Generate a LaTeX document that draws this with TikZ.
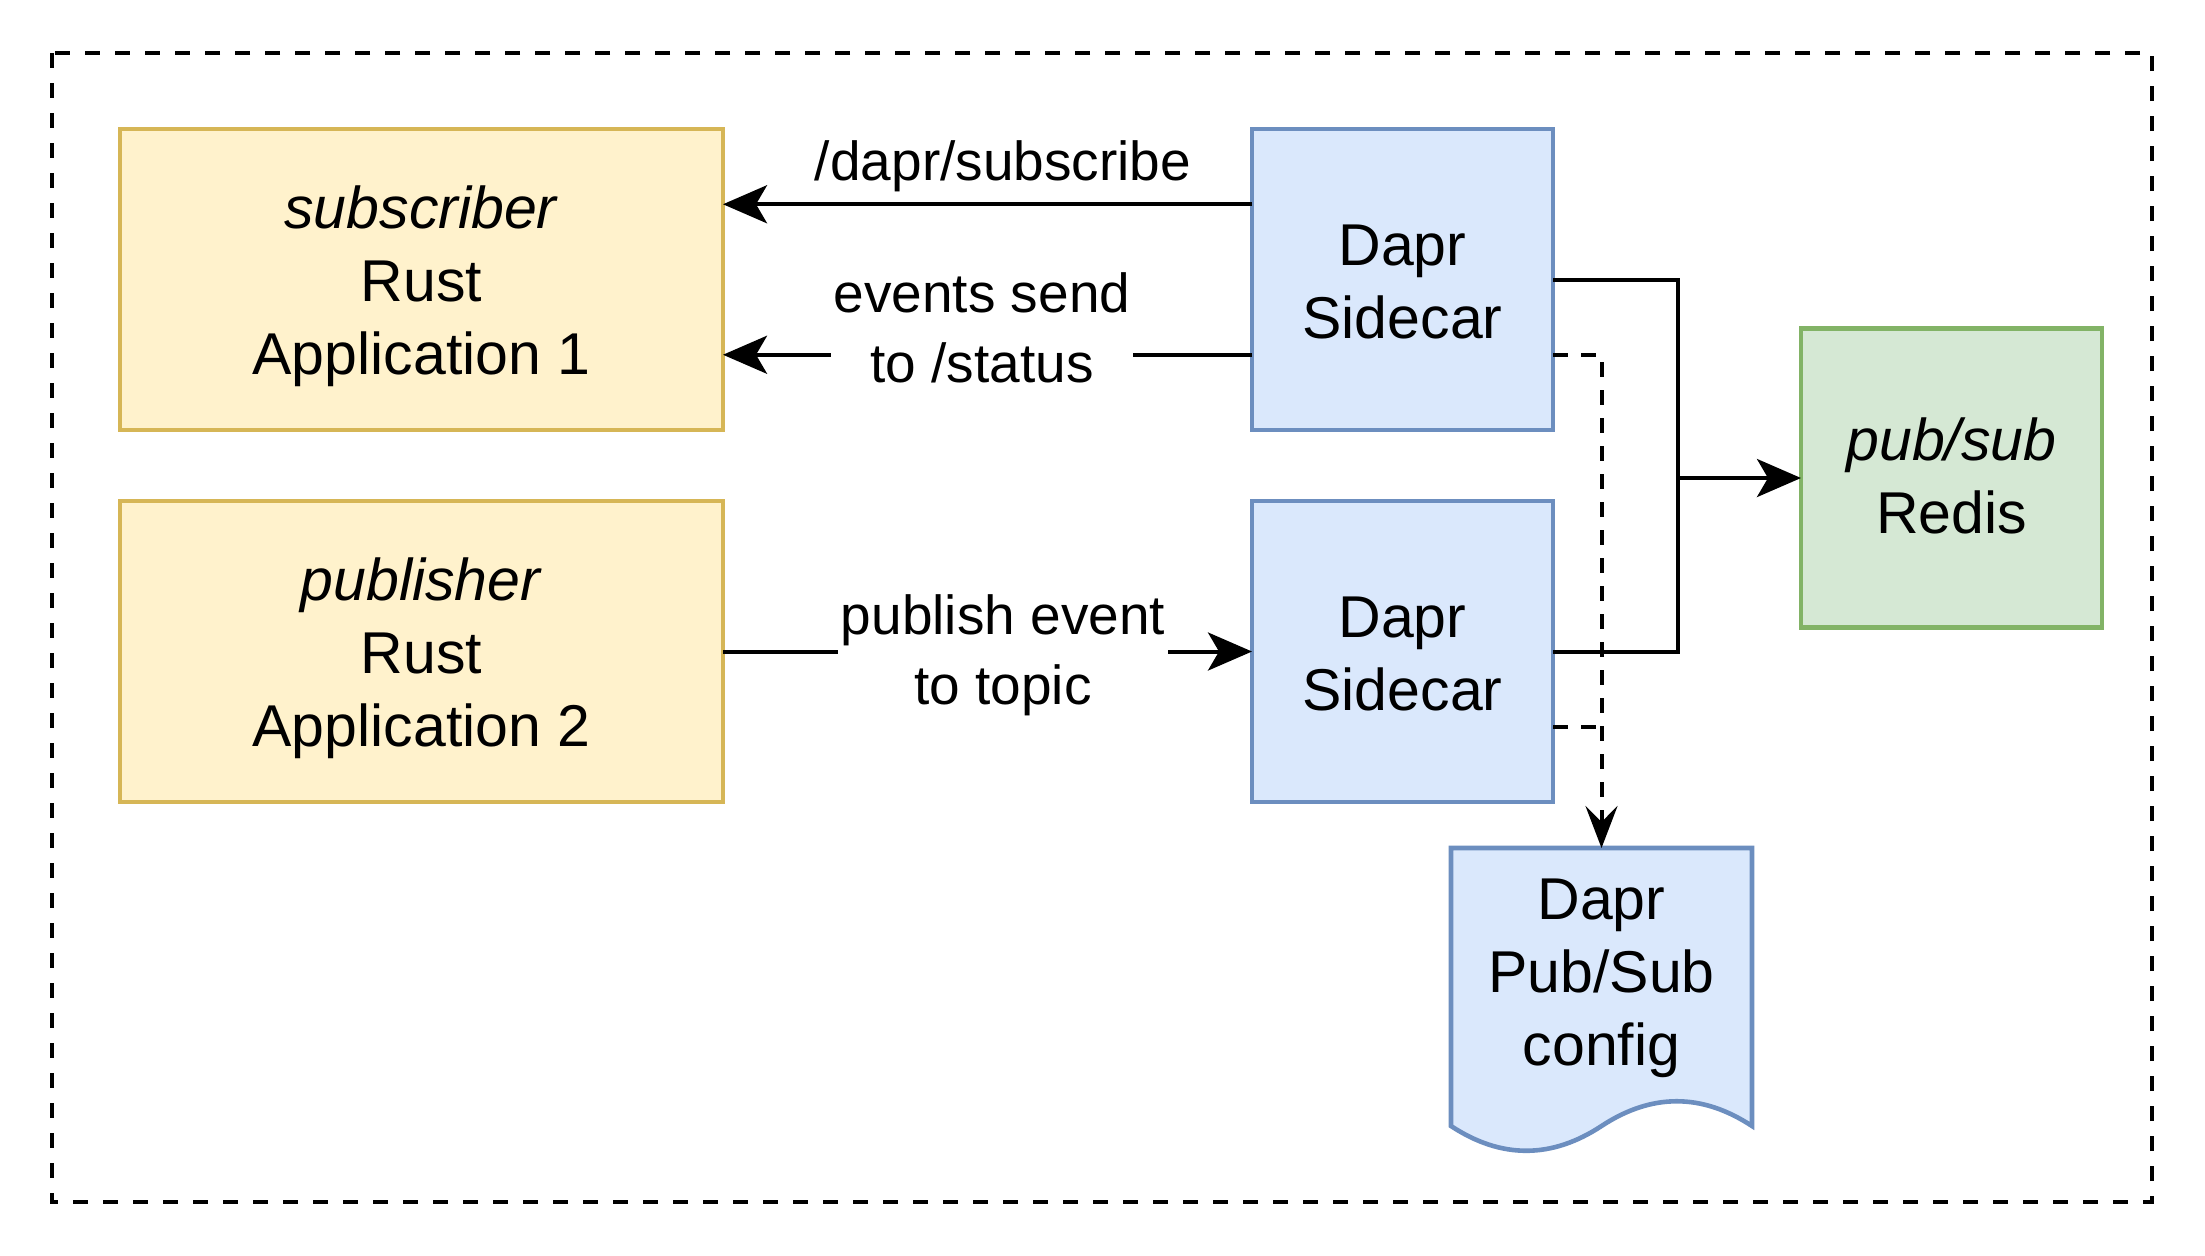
\documentclass[tikz,border=0pt]{standalone}
\usepackage{fontspec}
\setmainfont{Liberation Sans}
\usetikzlibrary{arrows.meta,calc}
\definecolor{yfill}{HTML}{FFF2CC}
\definecolor{ydraw}{HTML}{D6B656}
\definecolor{bfill}{HTML}{DAE8FC}
\definecolor{bdraw}{HTML}{6C8EBF}
\definecolor{gfill}{HTML}{D5E8D4}
\definecolor{gdraw}{HTML}{82B366}
\begin{document}
\begin{tikzpicture}[x=0.5pt,y=-0.5pt,
  btxt/.style={inner sep=0pt, outer sep=0pt, align=center,
    font=\fontsize{29.5}{36.5}\selectfont},
  boxbase/.style={line width=2.3pt, inner sep=0pt, outer sep=0pt},
  ybox/.style={boxbase, draw=ydraw, fill=yfill, minimum width=301.5pt, minimum height=150.5pt},
  bbox/.style={boxbase, draw=bdraw, fill=bfill, minimum width=150.5pt, minimum height=150.5pt},
  gbox/.style={boxbase, draw=gdraw, fill=gfill, minimum width=150.5pt, minimum height=149.5pt},
  txtbox/.style={boxbase, minimum width=150.5pt, minimum height=125pt},
  lbl/.style={inner xsep=1.5pt, inner ysep=3pt, align=center, font=\fontsize{27.5}{35}\selectfont},
  wire/.style={line width=2pt},
  conn/.style={wire, -{Stealth[length=22pt,width=19pt,inset=5.5pt]}},
  dsh/.style={line width=2pt, dash pattern=on 7.5pt off 6.5pt},
  dtip/.style={-{Stealth[length=21pt,width=16pt,inset=8pt]}},
  outer/.style={line width=2.2pt, dash pattern=on 7.5pt off 7.5pt}
]
\useasboundingbox (0,0) rectangle (2205,1255);
\draw[outer] (52,53) rectangle (2152,1202);

% document shape of the config
\draw[line width=2.3pt, draw=bdraw, fill=bfill]
  (1451,848) -- (1752,848) -- (1752,1126)
  .. controls (1701.8,1093) and (1651.7,1093) .. (1601.5,1126)
  .. controls (1551.3,1159) and (1501.2,1159) .. (1451,1126) -- cycle;

\node[ybox, label={[btxt, yshift=-3.5pt]center:{\textit{subscriber}\\Rust\\Application 1}}] (sub) at (421.5,279.5) {};
\node[ybox, label={[btxt, yshift=-3.5pt]center:{\textit{publisher}\\Rust\\Application 2}}] (pub) at (421.5,651.5) {};
\node[bbox, label={[btxt, yshift=-1.4pt]center:{Dapr\\Sidecar}}] (sc1) at (1402.5,279.5) {};
\node[bbox, label={[btxt, yshift=-1.4pt]center:{Dapr\\Sidecar}}] (sc2) at (1402.5,651.5) {};
\node[gbox, label={[btxt, yshift=1pt]center:{\textit{pub/sub}\\Redis}}] (redis) at (1951.5,478) {};
\node[txtbox, label={[btxt, yshift=-2.5pt]center:{Dapr\\Pub/Sub\\config}}] (cfg) at (1601.5,973) {};

% subscribe
\draw[conn] ($(sc1.north west)!0.25!(sc1.south west)$) -- ($(sub.north east)!0.25!(sub.south east)$);
\node[lbl] (l1) at (1003,166) {/dapr/subscribe};
% events
\draw[conn] ($(sc1.north west)!0.75!(sc1.south west)$) -- ($(sub.north east)!0.75!(sub.south east)$);
\node[lbl, fill=white] (l2) at (982,328) {events send\\to /status};
% publish
\draw[conn] (pub.east) -- (sc2.west);
\node[lbl, fill=white] (l3) at (1003,655.5) {publish event\\to topic};

% to redis
\coordinate (j) at (1678,478);
\draw[wire] (sc1.east) -| (j);
\draw[wire] (sc2.east) -| (j);
\draw[conn] (j) -- (redis.west);

% dashed to config
\coordinate (d1) at ($(sc1.north east)!0.75!(sc1.south east)$);
\coordinate (d2) at ($(sc2.north east)!0.75!(sc2.south east)$);
\draw[dsh, dtip] (d1) -| (cfg.north);
\draw[dsh] (d2) -- (d2 -| cfg.north);
\end{tikzpicture}
\end{document}
